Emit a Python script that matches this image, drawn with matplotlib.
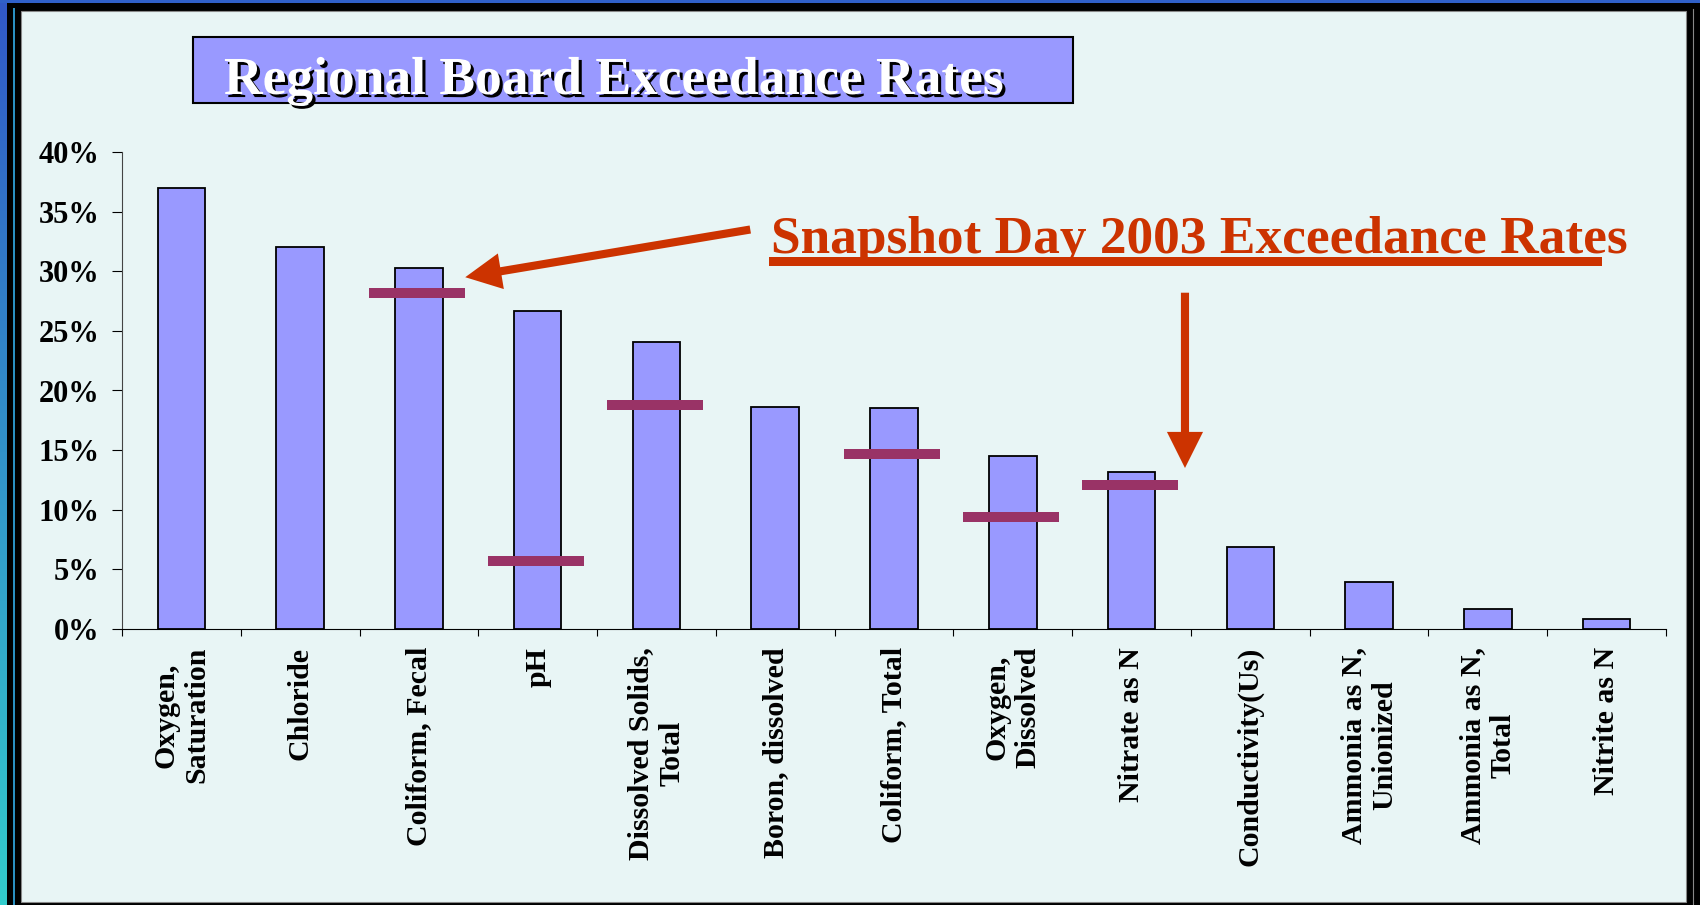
import numpy as np
import matplotlib
matplotlib.use("Agg")
import matplotlib.pyplot as plt
import matplotlib.patheffects as pe
from matplotlib.patches import Rectangle
from matplotlib.ticker import FuncFormatter

# --- data ---
categories = ["Oxygen,\nSaturation", "Chloride", "Coliform, Fecal", "pH",
              "Dissolved Solids,\nTotal", "Boron, dissolved", "Coliform, Total",
              "Oxygen,\nDissolved", "Nitrate as N", "Conductivity(Us)",
              "Ammonia as N,\nUnionized", "Ammonia as N,\nTotal", "Nitrite as N"]
board_rates = [37.0, 32.0, 30.3, 26.7, 24.1, 18.6, 18.5, 14.5, 13.2, 6.9, 3.9, 1.65, 0.8]

# snapshot day 2003 rates (only some parameters)
snap_idx = [2, 3, 4, 6, 7, 8]
snap_rates = [28.2, 5.7, 18.8, 14.7, 9.4, 12.1]

yticks = [0, 5, 10, 15, 20, 25, 30, 35, 40]

W, H = 1700, 905
SERIF = ["Liberation Serif", "DejaVu Serif"]
RED = "#CC3300"

fig = plt.figure(figsize=(W / 100, H / 100), dpi=100, facecolor="black")

# --- background frame (pixel coords) ---
bg = fig.add_axes([0, 0, 1, 1], zorder=0)
bg.set_xlim(0, W)
bg.set_ylim(H, 0)
bg.axis("off")
grad = np.linspace(0, 1, 256).reshape(-1, 1)
cmap = matplotlib.colors.LinearSegmentedColormap.from_list("bl", ["#3158C6", "#33CCCC"])
bg.imshow(grad, cmap=cmap, extent=(0, 7, H, 0), aspect="auto")
bg.add_patch(Rectangle((0, 0), W, 3, color="#3060C8", lw=0))
bg.add_patch(Rectangle((13, 8), 2, H, color="#2A8FC0", lw=0))
bg.add_patch(Rectangle((21, 11), 1665, 891, facecolor="#E8F5F5", edgecolor="#888888", lw=0.8))
bg.plot([1693, 1693], [9, H], color="#888888", lw=0.8)

# title box
bg.add_patch(Rectangle((193, 37), 880, 66, facecolor="#9999FF", edgecolor="black", lw=1.5))
bg.text(224, 94, "Regional Board Exceedance Rates", family=SERIF, weight="bold",
        fontsize=38.5, color="white", va="baseline", ha="left",
        path_effects=[pe.SimplePatchShadow(offset=(2.2, -2.2), shadow_rgbFace="black", alpha=1),
                      pe.Normal()])

# snapshot label
bg.text(771, 253, "Snapshot Day 2003 Exceedance Rates", family=SERIF, weight="bold",
        fontsize=38.4, color=RED, va="baseline", ha="left")
bg.add_patch(Rectangle((769, 257), 833, 9, color=RED, lw=0))

# --- main chart ---
ax = fig.add_axes([122 / W, 1 - 629 / H, (1666 - 122) / W, (629 - 152) / H], zorder=1)
ax.patch.set_visible(False)
x = np.arange(len(categories))
ax.bar(x, board_rates, width=0.40, color="#9999FF", edgecolor="black", linewidth=1.3, zorder=2)
ax.hlines(snap_rates, np.array(snap_idx) - 0.42, np.array(snap_idx) + 0.39,
          color="#993366", linewidth=7.2, zorder=3)

ax.set_xlim(-0.5, len(categories) - 0.5)
ax.set_ylim(0, 40)
ax.set_yticks(yticks)
ax.yaxis.set_major_formatter(FuncFormatter(lambda v, p: f"{v:.0f}%"))
ax.set_xticks(x)
ax.set_xticklabels(categories, rotation=90, ha="center", va="top", multialignment="center")
ax.set_xticks(np.arange(len(categories) + 1) - 0.5, minor=True)
ax.tick_params(axis="x", which="major", length=0, pad=13)
ax.tick_params(axis="x", which="minor", length=5, width=0.8, direction="out")
ax.tick_params(axis="y", length=7, width=0.8, pad=9)
for lab in ax.get_yticklabels():
    lab.set_family(SERIF)
    lab.set_weight("bold")
    lab.set_fontsize(22)
for lab in ax.get_xticklabels():
    lab.set_family(SERIF)
    lab.set_weight("bold")
    lab.set_fontsize(21.5)

for s in ["top", "right"]:
    ax.spines[s].set_visible(False)
ax.spines["left"].set_color("#444444")
ax.spines["left"].set_linewidth(0.8)
ax.spines["bottom"].set_linewidth(0.8)

arrow = dict(arrowstyle="simple,head_width=2.0,head_length=2.0,tail_width=0.45",
             mutation_scale=13, color=RED, shrinkA=0, shrinkB=0, lw=0)
ax.annotate("", xy=(2.39, 29.5), xytext=(4.79, 33.5), arrowprops=arrow, annotation_clip=False)
ax.annotate("", xy=(8.45, 13.5), xytext=(8.45, 28.2), arrowprops=arrow, annotation_clip=False)

fig.savefig("out.png", dpi=100, facecolor="black")
